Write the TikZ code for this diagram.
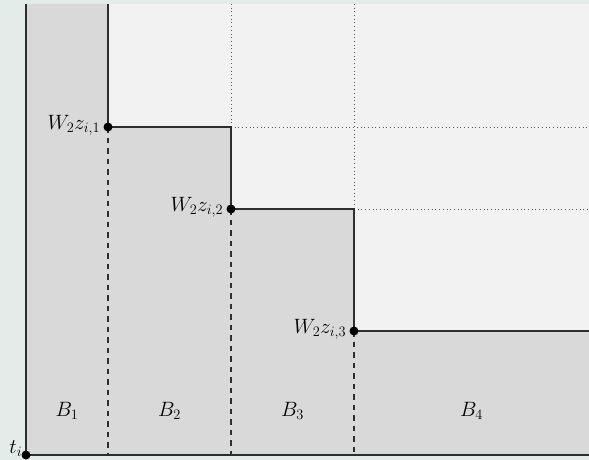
\documentclass[tikz,border=0pt]{standalone}
\definecolor{bgc}{HTML}{E4ECE9}
\definecolor{lightc}{HTML}{F2F2F2}
\definecolor{darkc}{HTML}{D9D9D9}
\definecolor{linec}{HTML}{2E2E2E}
\begin{document}
\begin{tikzpicture}[x=1pt,y=-1pt,
  font=\fontsize{20.74}{25}\selectfont,
  solidline/.style={draw=linec,line width=1.2pt},
  dashline/.style={draw=linec,line width=1.2pt,dash pattern=on 5.5pt off 5pt},
  dotline/.style={draw=linec!80,line width=0.6pt,dash pattern=on 0.7pt off 3pt},
  pt/.style={circle,fill=black,inner sep=0pt,minimum size=9pt},
  lbl/.style={inner sep=2pt}]
\useasboundingbox (0,0) rectangle (589,460);
\fill[bgc] (0,0) rectangle (589,460);
\fill[lightc] (108,4) rectangle (589,331);
\fill[darkc] (26,4) -- (108,4) -- (108,127) -- (231,127) -- (231,209) -- (354,209)
  -- (354,331) -- (589,331) -- (589,455) -- (26,455) -- cycle;
% coordinates
\coordinate (tl) at (26,4);
\coordinate (t1) at (108,4);
\coordinate (t2) at (231,4);
\coordinate (t3) at (354,4);
\coordinate (b1) at (108,455);
\coordinate (b2) at (231,455);
\coordinate (b3) at (354,455);
\coordinate (r1) at (589,127);
\coordinate (r2) at (589,209);
\coordinate (r3) at (589,331);
\coordinate (br) at (589,455);
\coordinate (q2) at (231,127);
\coordinate (q3) at (354,209);
\coordinate (o) at (26,455);
\coordinate (p1) at (108,127);
\coordinate (p2) at (231,209);
\coordinate (p3) at (354,331);
% dotted
\draw[dotline] (t2) -- (q2);
\draw[dotline] (t3) -- (q3);
\draw[dotline] (q2) -- (r1);
\draw[dotline] (q3) -- (r2);
% dashed
\draw[dashline] (p1) -- (b1);
\draw[dashline] (p2) -- (b2);
\draw[dashline] (p3) -- (b3);
% solid
\draw[solidline] (o) -- (tl);
\draw[solidline] (o) -- (br);
\draw[solidline] (t1) -- (p1) -- (q2) -- (p2) -- (q3) -- (p3) -- (r3);
% points
\node[pt] (po) at (o) {};
\node[pt] (pp1) at (p1) {};
\node[pt] (pp2) at (p2) {};
\node[pt] (pp3) at (p3) {};
% labels
\node[lbl,anchor=east] (l1) at ([xshift=-1pt,yshift=2pt]pp1.west) {$W_2z_{i,1}$};
\node[lbl,anchor=east] (l2) at ([xshift=-1pt,yshift=2pt]pp2.west) {$W_2z_{i,2}$};
\node[lbl,anchor=east] (l3) at ([xshift=-1pt,yshift=2pt]pp3.west) {$W_2z_{i,3}$};
\node[inner sep=0pt,anchor=east] (lt) at ([xshift=1pt,yshift=6pt]po.west) {$t_i$};
\node (B1) at (67,411) {$B_1$};
\node (B2) at (169.5,411) {$B_2$};
\node (B3) at (292.5,411) {$B_3$};
\node (B4) at (471.5,411) {$B_4$};
\end{tikzpicture}
\end{document}
